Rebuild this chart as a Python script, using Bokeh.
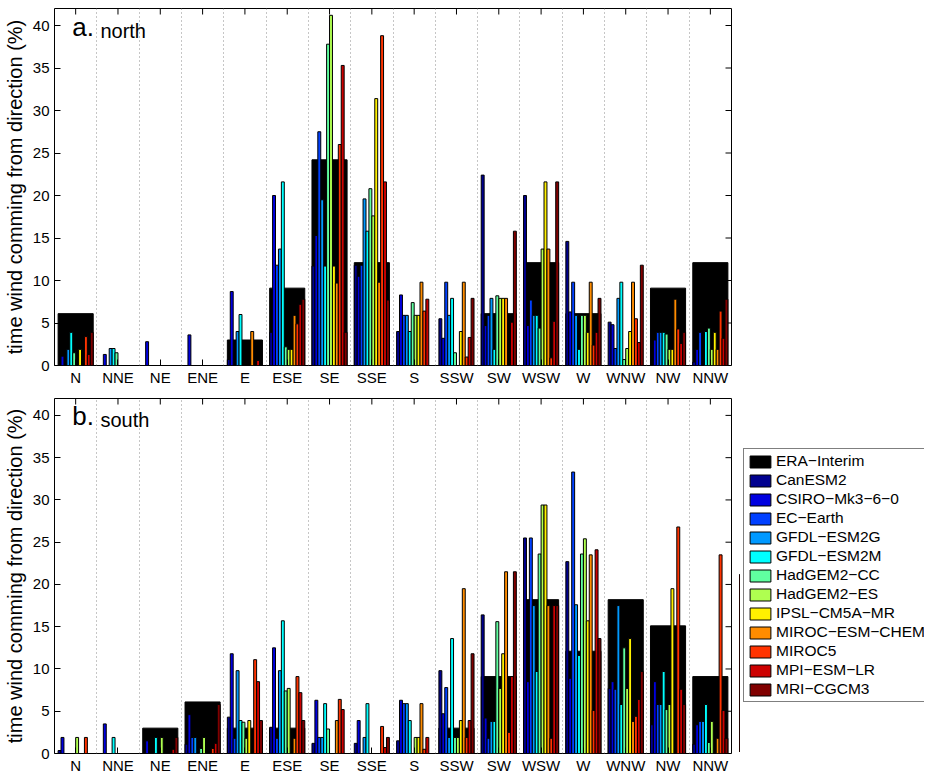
from bokeh.plotting import figure
from bokeh.models import (ColumnDataSource, FixedTicker, Range1d,
                          Legend, LegendItem, Label)
from bokeh.layouts import column, row
from bokeh.embed import file_html
from bokeh.resources import INLINE

# ---------------- data ----------------
directions = ["N", "NNE", "NE", "ENE", "E", "ESE", "SE", "SSE",
              "S", "SSW", "SW", "WSW", "W", "WNW", "NW", "NNW"]
models = ["CanESM2", "CSIRO−Mk3−6−0", "EC−Earth", "GFDL−ESM2G", "GFDL−ESM2M",
          "HadGEM2−CC", "HadGEM2−ES", "IPSL−CM5A−MR", "MIROC−ESM−CHEM",
          "MIROC5", "MPI−ESM−LR", "MRI−CGCM3"]
reference_name = "ERA−Interim"
model_colors = ["#00008F", "#0000DF", "#0040FF", "#0099FF", "#00FFFF",
                "#60FFA0", "#AFFF50", "#FFF000", "#FF8C00", "#FF3300",
                "#CC0000", "#800000"]
y_ticks = [0, 5, 10, 15, 20, 25, 30, 35, 40]

# panel a: north
era_north = [6.1, 0, 0, 0, 3.0, 9.1, 24.2, 12.1, 0, 0, 6.1, 12.1, 6.1, 0, 9.1, 12.1]
canesm2_north = [0, 0, 0, 0, 0.7, 3.9, 11.7, 11.8, 4.0, 5.5, 22.4, 20.0, 14.6, 5.1, 0, 0.4]
csiro_north = [1.1, 1.3, 2.8, 3.6, 8.7, 20.0, 15.3, 10.5, 8.3, 3.2, 4.7, 4.7, 6.3, 4.8, 3.0, 1.9]
ecearth_north = [0, 0, 0, 0, 0, 11.8, 27.5, 11.8, 5.9, 9.8, 5.9, 7.7, 9.8, 2.0, 3.9, 3.9]
gfdl2g_north = [1.9, 2.0, 0, 0, 4.0, 13.7, 19.5, 19.6, 5.9, 5.9, 7.9, 5.9, 5.9, 7.9, 3.9, 0]
gfdl2m_north = [3.9, 2.0, 0, 0, 6.0, 21.6, 11.7, 15.8, 4.0, 7.9, 1.9, 5.9, 1.9, 9.8, 3.9, 4.0]
hadcc_north = [1.5, 1.5, 0, 0, 0, 2.2, 37.8, 20.8, 7.4, 1.5, 8.2, 4.4, 5.9, 0.7, 3.7, 4.4]
hades_north = [0, 0, 0, 0, 0, 1.9, 41.2, 17.6, 5.9, 0, 7.9, 13.7, 5.9, 2.0, 1.9, 1.9]
ipsl_north = [1.9, 0, 0, 0, 0, 1.9, 11.7, 31.4, 5.9, 4.0, 7.9, 21.6, 3.9, 4.0, 1.9, 3.9]
mirocchem_north = [0, 0, 0, 0, 4.0, 5.9, 9.7, 9.8, 9.8, 9.8, 7.9, 13.7, 9.8, 9.8, 7.8, 1.9]
miroc5_north = [3.4, 0, 0, 0, 0, 4.9, 26.0, 38.8, 6.4, 1.0, 0, 0.9, 2.4, 5.5, 4.3, 6.4]
mpi_north = [1.3, 0, 0, 0, 0.6, 7.2, 35.3, 21.6, 7.8, 3.3, 5.1, 5.2, 3.9, 2.7, 2.6, 3.2]
mri_north = [3.9, 0, 0, 0, 0, 7.8, 3.9, 7.7, 0, 7.9, 15.8, 21.6, 7.9, 11.8, 3.9, 7.8]

# panel b: south
era_south = [0, 0, 3.0, 6.1, 3.0, 3.0, 0, 0, 0, 3.0, 9.1, 18.2, 12.1, 18.2, 15.1, 9.1]
canesm2_south = [0.35, 0, 0, 1.1, 4.3, 3.1, 1.2, 1.2, 1.5, 9.8, 16.4, 25.5, 22.7, 7.7, 3.4, 1.1]
csiro_south = [1.9, 3.5, 1.5, 4.6, 11.8, 12.5, 6.3, 3.9, 6.3, 4.7, 4.2, 8.5, 8.9, 8.5, 8.5, 3.4]
ecearth_south = [0, 0, 0, 1.9, 1.8, 1.8, 1.9, 0, 5.9, 7.8, 1.8, 25.5, 33.3, 7.6, 5.8, 3.8]
gfdl2g_south = [0, 0, 0, 1.9, 9.8, 9.8, 1.9, 1.9, 5.9, 1.9, 3.8, 17.5, 17.6, 17.5, 5.8, 3.8]
gfdl2m_south = [0, 1.9, 1.9, 0, 3.9, 15.7, 5.9, 5.9, 3.9, 13.6, 3.8, 9.7, 11.6, 5.8, 9.7, 5.8]
hadcc_south = [0, 0, 0, 0.6, 3.7, 7.4, 2.9, 0, 0, 1.9, 15.6, 23.6, 23.6, 12.5, 5.2, 1.3]
hades_south = [1.9, 0, 1.9, 1.9, 1.8, 7.7, 0, 0, 1.9, 1.9, 7.7, 29.4, 25.4, 7.7, 5.8, 3.8]
ipsl_south = [0, 0, 0, 0, 3.9, 0, 0, 0, 1.9, 3.9, 11.8, 29.4, 15.7, 13.6, 19.5, 0]
mirocchem_south = [0, 0, 0, 0, 0, 1.8, 3.9, 0, 5.9, 19.5, 21.5, 17.5, 23.5, 3.8, 0, 1.8]
miroc5_south = [1.9, 0, 0, 0.6, 11.1, 9.1, 6.4, 3.2, 0.5, 1.9, 2.5, 1.8, 5.1, 4.4, 26.8, 23.5]
mpi_south = [0, 0, 0.5, 1.2, 8.5, 7.2, 5.2, 0.7, 1.9, 3.9, 9.1, 17.5, 24.1, 6.4, 7.6, 5.1]
mri_south = [0, 0, 1.9, 5.8, 3.9, 3.9, 0, 1.9, 0, 11.8, 21.5, 17.5, 13.6, 9.7, 5.8, 1.8]

north_series = [canesm2_north, csiro_north, ecearth_north, gfdl2g_north, gfdl2m_north,
                hadcc_north, hades_north, ipsl_north, mirocchem_north, miroc5_north,
                mpi_north, mri_north]
south_series = [canesm2_south, csiro_south, ecearth_south, gfdl2g_south, gfdl2m_south,
                hadcc_south, hades_south, ipsl_south, mirocchem_south, miroc5_south,
                mpi_south, mri_south]

# ---------------- styling ----------------
FONT = "Liberation Sans"
GROUP_WIDTH = 0.83
SLOT = GROUP_WIDTH / len(models)
Y_LABEL = "time wind comming from direction (%)"
FRAME_W = 677
X_LO, X_HI = 0.5, 16.5
Y_LO, Y_HI = 0, 42
TICK_PX = 6
BAR_EDGE = 1.0


def style_axis(ax):
    ax.axis_line_color = None
    ax.major_tick_in = TICK_PX
    ax.major_tick_out = 0
    ax.minor_tick_in = 0
    ax.minor_tick_out = 0
    ax.major_tick_line_color = "black"
    ax.major_label_text_font = FONT
    ax.major_label_text_font_size = "15px"
    ax.major_label_text_color = "black"


def make_panel(letter, word, era, series, border_top, frame_h, border_bottom):
    cats = list(range(1, len(directions) + 1))
    p = figure(frame_width=FRAME_W, frame_height=frame_h,
               min_border_left=50, min_border_right=8,
               min_border_top=border_top, min_border_bottom=border_bottom,
               x_range=Range1d(X_LO, X_HI), y_range=Range1d(Y_LO, Y_HI),
               output_backend="svg", toolbar_location=None)
    p.background_fill_color = "white"
    p.border_fill_color = "white"
    p.outline_line_color = "black"
    p.outline_line_width = 1
    p.outline_line_alpha = 1

    # dotted separators between direction groups
    p.ygrid.visible = False
    p.xgrid.ticker = FixedTicker(ticks=[c + 0.5 for c in cats[:-1]])
    p.xgrid.grid_line_color = "#8c8c8c"
    p.xgrid.grid_line_dash = "1 3"
    p.xgrid.grid_line_width = 1

    xa = p.xaxis[0]
    xa.ticker = FixedTicker(ticks=cats)
    xa.major_label_overrides = {c: d for c, d in zip(cats, directions)}
    style_axis(xa)
    xa.major_label_standoff = 3

    ya = p.yaxis[0]
    ya.ticker = FixedTicker(ticks=y_ticks)
    style_axis(ya)
    ya.major_label_standoff = 5
    ya.axis_label = Y_LABEL
    ya.axis_label_text_font = FONT
    ya.axis_label_text_font_size = "20px"
    ya.axis_label_text_font_style = "normal"
    ya.axis_label_text_color = "black"
    ya.axis_label_standoff = 4

    # box ticks on the top and right edges (inward, like the left/bottom ones)
    dy = TICK_PX * (Y_HI - Y_LO) / frame_h
    dx = TICK_PX * (X_HI - X_LO) / FRAME_W
    p.segment(x0=cats, y0=[Y_HI] * len(cats), x1=cats, y1=[Y_HI - dy] * len(cats),
              line_color="black", line_width=1)
    p.segment(x0=[X_HI] * len(y_ticks), y0=y_ticks, x1=[X_HI - dx] * len(y_ticks),
              y1=y_ticks, line_color="black", line_width=1)

    # ERA-Interim wide black bars
    era_src = ColumnDataSource(dict(x=cats, top=era))
    p.vbar(x="x", top="top", width=GROUP_WIDTH, bottom=0, source=era_src,
           fill_color="black", line_color="black", line_width=1)
    # model bars
    n = len(models)
    for i, (vals, col) in enumerate(zip(series, model_colors)):
        xs = [c + (i - (n - 1) / 2) * SLOT for c in cats]
        src = ColumnDataSource(dict(x=xs, top=vals))
        p.vbar(x="x", top="top", width=SLOT, bottom=0, source=src,
               fill_color=col, line_color="black", line_width=BAR_EDGE)

    # panel caption
    p.add_layout(Label(x=0.92, y=38.1, text=letter, text_font=FONT,
                       text_font_size="26px", text_color="black"))
    p.add_layout(Label(x=1.585, y=38.1, text=word, text_font=FONT,
                       text_font_size="20px", text_color="black"))
    return p


TOP_B, TOP_F, TOP_BB = 8, 357, 24
BOT_B, BOT_F, BOT_BB = 9, 355, 21
p_north = make_panel("a.", "north", era_north, north_series, TOP_B, TOP_F, TOP_BB)
p_south = make_panel("b.", "south", era_south, south_series, BOT_B, BOT_F, BOT_BB)

# legend panel (clipped at the window edge like the reference)
leg_h = BOT_B + BOT_F + BOT_BB
p_leg = figure(width=185, height=leg_h, min_border=0,
               x_range=Range1d(0, 1), y_range=Range1d(0, 1),
               x_axis_location=None, y_axis_location=None,
               output_backend="svg", toolbar_location=None)
p_leg.grid.visible = False
p_leg.outline_line_color = None
p_leg.background_fill_color = "white"
p_leg.border_fill_color = "white"
items = []
hidden_x, hidden_top = [-10], [0.5]   # off-range point so legend glyphs get drawn
r = p_leg.vbar(x=hidden_x, top=hidden_top, width=0.1, fill_color="black",
               line_color="black", line_width=1)
items.append(LegendItem(label=reference_name, renderers=[r]))
for name, col in zip(models, model_colors):
    r = p_leg.vbar(x=hidden_x, top=hidden_top, width=0.1, fill_color=col,
                   line_color="black", line_width=1)
    items.append(LegendItem(label=name, renderers=[r]))
leg = Legend(items=items, location=(4, 49))
leg.border_line_color = "black"
leg.border_line_width = 1
leg.background_fill_color = "white"
leg.background_fill_alpha = 1
leg.label_text_font = FONT
leg.label_text_font_size = "15.5px"
leg.label_text_color = "black"
leg.glyph_width = 26
leg.glyph_height = 15
leg.label_height = 15
leg.label_standoff = 3
leg.spacing = 1
leg.padding = 3
leg.margin = 0
p_leg.add_layout(leg, "center")

layout = column(p_north, row(p_south, p_leg))
open("out.html", "w").write(file_html(layout, INLINE))
